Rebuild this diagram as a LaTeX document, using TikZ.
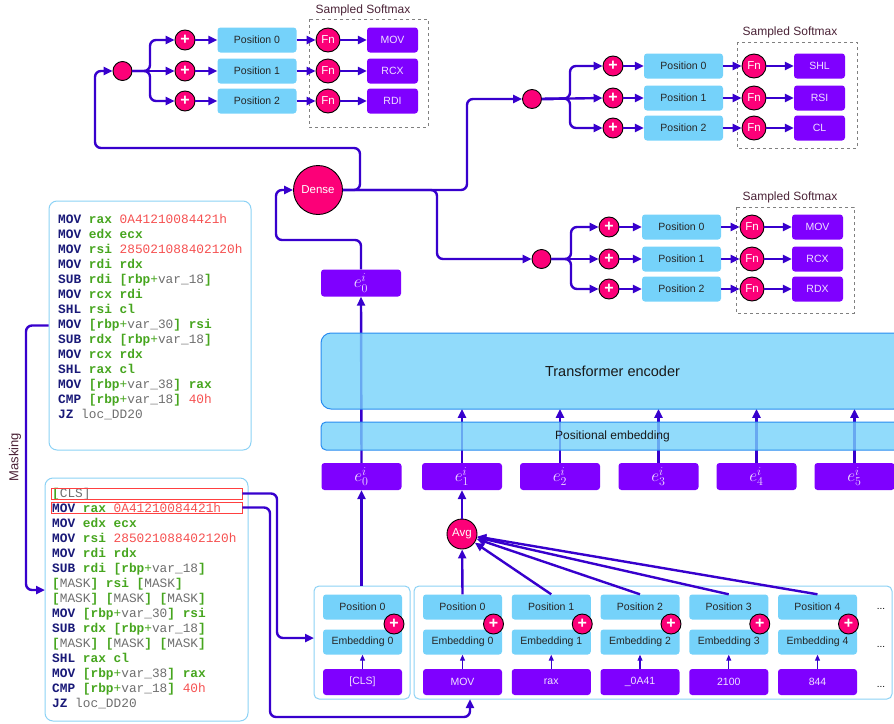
\documentclass[tikz,border=0pt]{standalone}
\usepackage{fontspec}
\setmainfont{Liberation Sans}
\setmonofont{Liberation Mono}
\usetikzlibrary{arrows.meta,calc}

\definecolor{conn}{RGB}{55,0,205}
\definecolor{lblue}{RGB}{117,210,250}
\definecolor{pinkc}{RGB}{252,0,120}
\definecolor{purp}{RGB}{127,0,255}
\definecolor{tokt}{RGB}{240,225,255}
\definecolor{obord}{RGB}{140,210,245}
\definecolor{tbord}{RGB}{40,140,240}
\definecolor{labc}{RGB}{75,35,55}
\definecolor{opc}{RGB}{25,25,120}
\definecolor{regc}{RGB}{70,165,30}
\definecolor{numc}{RGB}{245,80,80}
\definecolor{grayc}{RGB}{110,110,110}

\newcommand{\cOp}[1]{\textcolor{opc}{\bfseries #1}}
\newcommand{\cRg}[1]{\textcolor{regc}{\bfseries #1}}
\newcommand{\cNm}[1]{\textcolor{numc}{#1}}
\newcommand{\cGy}[1]{\textcolor{grayc}{#1}}
\newcommand{\cMem}[1]{\cRg{[rbp}\textcolor{regc}{+}\cGy{var\_#1}\cRg{]}}
\newcommand{\cMsk}{\cRg{[}\cGy{MASK}\cRg{]}}

\tikzset{
 arr/.style={draw=conn, line width=2.4pt, -{Triangle[length=9pt,width=8pt]}},
 thinarr/.style={draw=conn, line width=1.1pt, -{Triangle[length=6pt,width=5pt]}},
 posbox/.style={rectangle, rounded corners=3pt, fill=lblue, minimum width=79pt, minimum height=25pt, inner sep=0pt, font=\fontsize{10.5}{12}\selectfont, text=black!85},
 outbox/.style={rectangle, rounded corners=3pt, fill=purp, minimum width=51pt, minimum height=25pt, inner sep=0pt, font=\fontsize{10.5}{12}\selectfont, text=tokt},
 tokbox/.style={rectangle, rounded corners=3pt, fill=purp, minimum width=79pt, minimum height=26pt, inner sep=0pt, font=\fontsize{10.5}{12}\selectfont, text=tokt},
 ebox/.style={rectangle, rounded corners=3pt, fill=purp, minimum width=80pt, minimum height=27pt, inner sep=0pt, font=\fontsize{17}{17}\selectfont, text=tokt},
 plusc/.style={circle, fill=pinkc, draw=black, line width=0.9pt, minimum size=20pt, inner sep=0pt, text=white, font=\bfseries\fontsize{16}{16}\selectfont},
 fnc/.style={circle, fill=pinkc, draw=black, line width=0.9pt, minimum size=24pt, inner sep=0pt, text=white, font=\fontsize{11.5}{12}\selectfont},
 splitc/.style={circle, fill=pinkc, draw=black, line width=0.9pt, minimum size=19pt, inner sep=0pt},
 softbox/.style={draw=gray, dashed, line width=0.8pt},
 softlab/.style={font=\fontsize{12}{12}\selectfont, text=labc},
 codeline/.style={anchor=base west, inner sep=0pt, font=\ttfamily\fontsize{12.8}{15}\selectfont},
 codebox/.style={draw=obord, line width=1pt, rounded corners=8pt, inner sep=0pt},
 obox/.style={draw=obord, fill=white, line width=1pt, rounded corners=5pt, inner sep=0pt},
 tbox/.style={draw=tbord, fill=lblue, fill opacity=0.8, text opacity=1, line width=1pt, inner sep=0pt, text=black!90},
 redbox/.style={draw=red!75, line width=0.8pt, minimum width=191pt, minimum height=11pt, inner sep=0pt},
 dots/.style={font=\fontsize{10}{10}\selectfont, inner sep=0pt},
}

\begin{document}
\begin{tikzpicture}[x=1pt,y=-1pt]
\useasboundingbox (0,0) rectangle (894,723);

% ---------- Softmax block A (top-left)
\node[softlab] (Alab) at (363,10) {Sampled Softmax};
\draw[softbox] (309,19) rectangle (428,127);
\node[splitc] (SA) at (122.5,71) {};
\foreach \i/\y/\t in {0/40/MOV,1/71/RCX,2/101/RDI}{
  \node[plusc] (Ap\i) at (185,\y) {+};
  \node[posbox] (Apos\i) at (257,\y) {Position \i};
  \node[fnc] (Afn\i) at (328,\y) {Fn};
  \node[outbox] (Aout\i) at (392.5,\y) {\t};
  \draw[arr] (Ap\i) -- (Apos\i);
  \draw[arr] (Apos\i) -- (Afn\i);
  \draw[arr] (Afn\i) -- (Aout\i);
}
\draw[arr] (SA.east) -- (Ap1.west);
\draw[arr, rounded corners=6pt] (SA.east) -- (150,71) -- (150,40) -- (Ap0.west);
\draw[arr, rounded corners=6pt] (SA.east) -- (150,71) -- (150,101) -- (Ap2.west);

% ---------- Softmax block B (top-right)
\node[softlab] (Blab) at (790,32) {Sampled Softmax};
\draw[softbox] (737,42) rectangle (857,148);
\node[splitc] (SB) at (532,99) {};
\foreach \i/\y/\t in {0/66/SHL,1/98/RSI,2/128/CL}{
  \node[plusc] (Bp\i) at (613,\y) {+};
  \node[posbox] (Bpos\i) at (683.5,\y) {Position \i};
  \node[fnc] (Bfn\i) at (754,\y) {Fn};
  \node[outbox] (Bout\i) at (819.5,\y) {\t};
  \draw[arr] (Bp\i) -- (Bpos\i);
  \draw[arr] (Bpos\i) -- (Bfn\i);
  \draw[arr] (Bfn\i) -- (Bout\i);
}
\draw[arr] (SB.east) -- (Bp1.west);
\draw[arr, rounded corners=6pt] (SB.east) -- (570,98.5) -- (570,66) -- (Bp0.west);
\draw[arr, rounded corners=6pt] (SB.east) -- (570,98.5) -- (570,128) -- (Bp2.west);

% ---------- Softmax block C (middle-right)
\node[softlab] (Clab) at (790,197) {Sampled Softmax};
\draw[softbox] (736,207) rectangle (854,313);
\node[splitc] (SC) at (541.5,259) {};
\foreach \i/\y/\t in {0/227/MOV,1/259/RCX,2/289/RDX}{
  \node[plusc] (Cp\i) at (609,\y) {+};
  \node[posbox] (Cpos\i) at (681.5,\y) {Position \i};
  \node[fnc] (Cfn\i) at (752,\y) {Fn};
  \node[outbox] (Cout\i) at (817.5,\y) {\t};
  \draw[arr] (Cp\i) -- (Cpos\i);
  \draw[arr] (Cpos\i) -- (Cfn\i);
  \draw[arr] (Cfn\i) -- (Cout\i);
}
\draw[arr] (SC.east) -- (Cp1.west);
\draw[arr, rounded corners=6pt] (SC.east) -- (571,259) -- (571,227) -- (Cp0.west);
\draw[arr, rounded corners=6pt] (SC.east) -- (571,259) -- (571,289) -- (Cp2.west);

% ---------- Dense
\node[fnc, minimum size=49pt] (dense) at (318,190) {Dense};
\node[ebox] (e0top) at (361,283) {$e^{i}_{0}$};
\draw[arr, rounded corners=6pt] (e0top.north) -- (361,240) -- (276,240) -- (276,190) -- (dense.west);
\draw[arr, rounded corners=6pt] (dense.east) -- (360,190) -- (360,148) -- (95,148) -- (95,71) -- (SA.west);
\draw[arr, rounded corners=6pt] (dense.east) -- (467,190) -- (467,99) -- (SB.west);
\draw[arr, rounded corners=6pt] (dense.east) -- (437,190) -- (437,259) -- (SC.west);

% ---------- e row and transformer
\foreach \k/\xx in {0/361.5,1/462,2/560,3/658.5,4/756.5,5/854.5}{
  \node[ebox] (e\k) at (\xx,476.5) {$e^{i}_{\k}$};
}
\draw[arr] (e0.north) -- (e0top.south);
\foreach \k in {1,...,5}{
  \draw[arr] (e\k.north) -- ++(0,-54);
}
\node[tbox, rounded corners=10pt, minimum width=583pt, minimum height=76pt, font=\fontsize{14.5}{15}\selectfont] (trans) at (612.5,371) {Transformer encoder};
\node[tbox, rounded corners=5pt, minimum width=583pt, minimum height=28pt, font=\fontsize{12}{13}\selectfont] (posemb) at (612.5,436) {Positional embedding};

% ---------- Code box 1
\node[codebox, minimum width=202pt, minimum height=249pt] (code1) at (150,325.5) {};
\foreach \t [count=\n] in {
 {\cOp{MOV} \cRg{rax} \cNm{0A41210084421h}},
 {\cOp{MOV} \cRg{edx} \cRg{ecx}},
 {\cOp{MOV} \cRg{rsi} \cNm{285021088402120h}},
 {\cOp{MOV} \cRg{rdi} \cRg{rdx}},
 {\cOp{SUB} \cRg{rdi} \cMem{18}},
 {\cOp{MOV} \cRg{rcx} \cRg{rdi}},
 {\cOp{SHL} \cRg{rsi} \cRg{cl}},
 {\cOp{MOV} \cMem{30} \cRg{rsi}},
 {\cOp{SUB} \cRg{rdx} \cMem{18}},
 {\cOp{MOV} \cRg{rcx} \cRg{rdx}},
 {\cOp{SHL} \cRg{rax} \cRg{cl}},
 {\cOp{MOV} \cMem{38} \cRg{rax}},
 {\cOp{CMP} \cMem{18} \cNm{40h}},
 {\cOp{JZ} \cGy{loc\_DD20}}}{
  \pgfmathsetmacro{\yy}{223.3+15*(\n-1)}
  \node[codeline] (ca\n) at (58,\yy) {\t};
}

% ---------- Code box 2
\node[codebox, minimum width=203pt, minimum height=243pt] (code2) at (146.5,599.5) {};
\foreach \t [count=\n] in {
 {\cRg{[}\cGy{CLS]}},
 {\cOp{MOV} \cRg{rax} \cNm{0A41210084421h}},
 {\cOp{MOV} \cRg{edx} \cRg{ecx}},
 {\cOp{MOV} \cRg{rsi} \cNm{285021088402120h}},
 {\cOp{MOV} \cRg{rdi} \cRg{rdx}},
 {\cOp{SUB} \cRg{rdi} \cMem{18}},
 {\cMsk{} \cRg{rsi} \cMsk},
 {\cMsk{} \cMsk{} \cMsk},
 {\cOp{MOV} \cMem{30} \cRg{rsi}},
 {\cOp{SUB} \cRg{rdx} \cMem{18}},
 {\cMsk{} \cMsk{} \cMsk},
 {\cOp{SHL} \cRg{rax} \cRg{cl}},
 {\cOp{MOV} \cMem{38} \cRg{rax}},
 {\cOp{CMP} \cMem{18} \cNm{40h}},
 {\cOp{JZ} \cGy{loc\_DD20}}}{
  \pgfmathsetmacro{\yy}{497.3+15*(\n-1)}
  \node[codeline] (cb\n) at (52,\yy) {\t};
}
\node[redbox] (rcls) at (146.5,493.5) {};
\node[redbox] (rmov) at (146.5,507.5) {};

% ---------- Masking
\node[rotate=90, font=\fontsize{13}{13}\selectfont, text=labc] (masklab) at (15,457) {Masking};
\coordinate (maskin) at (45,590);
\draw[arr, rounded corners=6pt] (code1.west) -- (26,325.5) -- (26,590) -- (maskin);

% ---------- Embedding area
\node[obox, minimum width=96pt, minimum height=113pt] (clsouter) at (362,642.5) {};
\node[obox, minimum width=478pt, minimum height=113pt] (mainouter) at (653,642.5) {};

\node[posbox] (cpos) at (362.5,607) {Position 0};
\node[posbox] (cemb) at (362.5,642) {Embedding 0};
\node[tokbox] (ctok) at (362.5,682) {[CLS]};
\node[plusc] (cplus) at (394,624) {+};
\draw[thinarr] (ctok) -- (cemb);

\foreach \k/\tok in {0/MOV,1/rax,2/\_0A41,3/2100,4/844}{
  \pgfmathsetmacro{\xx}{462.5+88.75*\k}
  \node[posbox] (mpos\k) at (\xx,607) {Position \k};
  \node[posbox] (memb\k) at (\xx,642) {Embedding \k};
  \node[tokbox] (mtok\k) at (\xx,682) {\tok};
  \node[plusc] (mplus\k) at (\xx+31,624) {+};
  \draw[thinarr] (mtok\k) -- (memb\k);
}
\node[dots] (dt1) at (881,609) {...};
\node[dots] (dt2) at (881,647) {...};
\node[dots] (dt3) at (881,687) {...};

\node[fnc, minimum size=30pt] (avg) at (462,534) {Avg};
\foreach \k in {0,...,4}{
  \draw[arr] (mpos\k.north) -- (avg);
}
\draw[arr] (avg) -- (e1);
\draw[arr] (e0.south |- clsouter.north) -- (e0.south);

% ---------- red box links
\coordinate (clsin) at (314,638);
\coordinate (mainin) at (470,699);
\draw[arr, rounded corners=6pt] (rcls.east) -- (277,493.5) -- (277,638) -- (clsin);
\draw[arr, rounded corners=6pt] (rmov.east) -- (270,507.5) -- (270,717) -- (470,717) -- (mainin);
\end{tikzpicture}
\end{document}
